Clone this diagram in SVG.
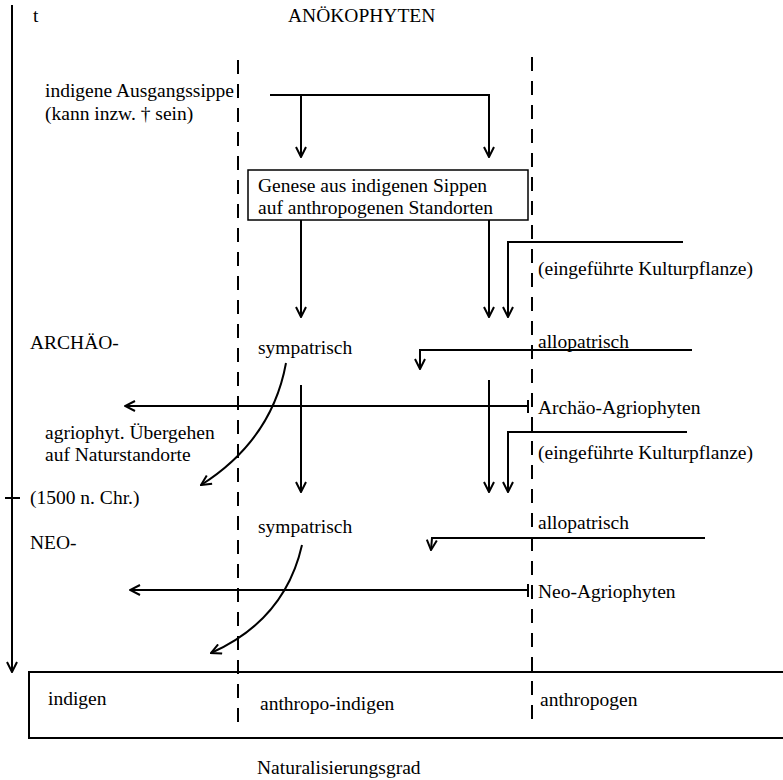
<svg xmlns="http://www.w3.org/2000/svg" width="783" height="780" viewBox="0 0 783 780">
<style>
text { font-family: "Liberation Serif", "Times New Roman", serif; font-size: 19.5px; fill: #000; }
.ln { fill: none; stroke: #000; stroke-width: 2; }
.ar { fill: none; stroke: #000; stroke-width: 2; marker-end: url(#arrow); }
.dash { fill: none; stroke: #000; stroke-width: 2; stroke-dasharray: 14 10; }
</style>
<defs>
<marker id="arrow" viewBox="0 0 12 12" refX="11" refY="6" markerWidth="12" markerHeight="12" markerUnits="userSpaceOnUse" orient="auto">
<path d="M1,1 L11,6 L1,11" fill="none" stroke="#000" stroke-width="2"/>
</marker>
</defs>
<rect width="783" height="780" fill="#fff"/>

<g id="axes">
<path class="ar" d="M12,5 L12,672"/>
<path class="ln" d="M5,498 L20,498"/>
<path class="ln" d="M783,672 L29,672 L29,738 L783,738"/>
<path class="dash" d="M238,60 L238,730"/>
<path class="dash" d="M532,57 L532,727"/>
</g>

<g id="connectors">
<path class="ln" d="M270,95 L490,95"/>
<path class="ar" d="M301,95 L301,157"/>
<path class="ar" d="M489,95 L489,157"/>
<path class="ar" d="M301,220 L301,317"/>
<path class="ar" d="M489,220 L489,317"/>
<path class="ar" d="M683,242 L508,242 L508,317"/>
<path class="ar" d="M692,350 L420,350 L420,369"/>
<path class="ar" d="M286,363 Q272,440 201,485"/>
<path class="ar" d="M528,406 L125,406"/>
<path class="ln" d="M528,400 L528,413"/>
<path class="ar" d="M301,385 L301,492"/>
<path class="ar" d="M489,380 L489,492"/>
<path class="ar" d="M687,432 L508,432 L508,492"/>
<path class="ar" d="M705,538 L432,538 L431,550"/>
<path class="ar" d="M302,545 Q285,620 211,653"/>
<path class="ar" d="M528,590 L130,590"/>
<path class="ln" d="M528,584 L528,597"/>
</g>

<g id="labels">
<text x="33" y="22">t</text>
<text x="288" y="22">ANÖKOPHYTEN</text>
<text x="45" y="97">indigene Ausgangssippe</text>
<text x="45" y="120">(kann inzw. † sein)</text>
<text x="538" y="275">(eingeführte Kulturpflanze)</text>
<text x="30" y="349">ARCHÄO-</text>
<text x="258" y="354">sympatrisch</text>
<text x="538" y="348">allopatrisch</text>
<text x="538" y="414">Archäo-Agriophyten</text>
<text x="45" y="439">agriophyt. Übergehen</text>
<text x="45" y="461">auf Naturstandorte</text>
<text x="538" y="459">(eingeführte Kulturpflanze)</text>
<text x="30" y="504">(1500 n. Chr.)</text>
<text x="258" y="533">sympatrisch</text>
<text x="538" y="529">allopatrisch</text>
<text x="30" y="549">NEO-</text>
<text x="538" y="598">Neo-Agriophyten</text>
<text x="48" y="705">indigen</text>
<text x="260" y="710">anthropo-indigen</text>
<text x="540" y="706">anthropogen</text>
<text x="257" y="774">Naturalisierungsgrad</text>
</g>

<g id="genese">
<rect x="248" y="170" width="280" height="50" fill="#fff" stroke="#000" stroke-width="1.5"/>
<text x="258" y="192">Genese aus indigenen Sippen</text>
<text x="258" y="214">auf anthropogenen Standorten</text>
</g>
</svg>
